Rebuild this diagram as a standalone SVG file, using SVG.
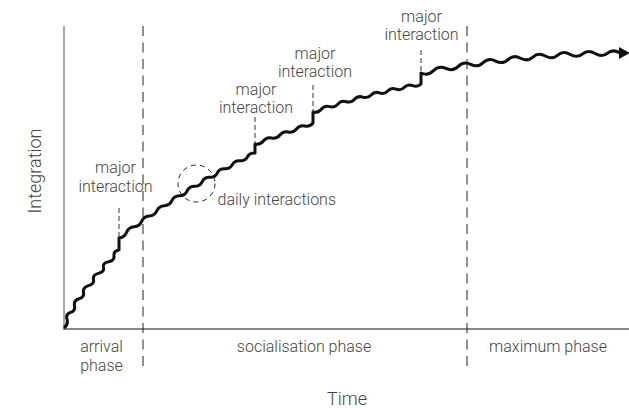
<svg xmlns="http://www.w3.org/2000/svg" width="629" height="408" viewBox="0 0 629 408">
<style>
  text { font-family: Roboto, "Noto Sans", "Liberation Sans", sans-serif; font-weight: 300; fill: #444; }
  .lbl { font-size: 16px; text-anchor: middle; }
  .ax-title { font-size: 18px; text-anchor: middle; }
  .axis { stroke: #888; fill: none; }
  .phase { stroke: #222; stroke-width: 1; stroke-dasharray: 10 6.5; fill: none; }
  .tick { stroke: #333; stroke-width: 1; stroke-dasharray: 5 3; fill: none; }
  .curve { stroke: #111; stroke-width: 3; fill: none; stroke-linejoin: round; stroke-linecap: butt; }
</style>
<defs>
  <marker id="arrow" viewBox="0 0 11 12" refX="2" refY="6" markerWidth="11" markerHeight="12" markerUnits="userSpaceOnUse" orient="auto">
    <path d="M0,0 L11,6 L0,12 z" fill="#111"/>
  </marker>
</defs>

<g id="axes">
  <line class="axis" x1="64" y1="26" x2="64" y2="329" stroke-width="1.5"/>
  <line class="axis" x1="63" y1="329" x2="629" y2="329" stroke-width="2"/>
  <text class="ax-title" x="347" y="405">Time</text>
  <text class="ax-title" transform="translate(41,171) rotate(-90)" x="0" y="0">Integration</text>
</g>

<g id="phases">
  <line class="phase" x1="143" y1="26" x2="143" y2="366"/>
  <line class="phase" x1="467" y1="26" x2="467" y2="366"/>
  <text class="lbl" x="101.5" y="352">arrival</text>
  <text class="lbl" x="101.5" y="371">phase</text>
  <text class="lbl" x="304" y="352">socialisation phase</text>
  <text class="lbl" x="548" y="352">maximum phase</text>
</g>

<g id="connectors">
  <path class="curve" marker-end="url(#arrow)" d="M64,328 Q68.53,324.69 67,319.3 T70.5,312.4 T74.5,305.6 T79,298.7 T83.5,292.4 T88.5,285.7 T93.5,279.3 T98.5,273.4 T103.5,267.4 T108.5,261.8 T114,255.8 T119,250 L119,238
  Q124.46,237.41 126.56,232.34 T134.11,226.78 T141.67,221.34 T149.22,216.01 T156.78,210.79 T164.33,205.68 T171.89,200.68 T179.44,195.8 T187,191.02 T194.56,186.36 T202.11,181.8 T209.67,177.36 T217.22,173.03 T224.78,168.81 T232.33,164.71 T239.89,160.71 T247.44,156.82 T255,153.05 L255,144
  Q260.09,145.13 263.29,141 T271.57,138 T279.86,135 T288.14,132 T296.43,129 T304.71,126 T313,123 L313,112
  Q318.02,113.3 321.31,109.28 T329.62,106.66 T337.92,104.13 T346.23,101.69 T354.54,99.35 T362.85,97.1 T371.15,94.96 T379.46,92.9 T387.77,90.93 T396.08,89.06 T404.38,87.3 T412.69,85.62 T421,84.04 L421,73
  Q428.1,76.2 433.44,70.64 T445.88,68.42 T458.31,66.36 T470.75,64.44 T483.19,62.67 T495.63,61.05 T508.06,59.58 T520.5,58.25 T532.94,57.07 T545.38,56.05 T557.81,55.17 T570.25,54.44 T582.69,53.86 T595.13,53.42 T607.56,53.14 T620,53 L621,53"/>
</g>

<g id="major1">
  <line class="tick" x1="119" y1="208" x2="119" y2="238"/>
  <text class="lbl" x="115.5" y="173">major</text>
  <text class="lbl" x="115.5" y="191.5">interaction</text>
</g>
<g id="major2">
  <line class="tick" x1="255" y1="117" x2="255" y2="144"/>
  <text class="lbl" x="256" y="95">major</text>
  <text class="lbl" x="256" y="113">interaction</text>
</g>
<g id="major3">
  <line class="tick" x1="313" y1="85" x2="313" y2="112"/>
  <text class="lbl" x="315" y="58.5">major</text>
  <text class="lbl" x="315" y="77">interaction</text>
</g>
<g id="major4">
  <line class="tick" x1="421" y1="50" x2="421" y2="72"/>
  <text class="lbl" x="421.5" y="21.5">major</text>
  <text class="lbl" x="421.5" y="39.5">interaction</text>
</g>
<g id="daily">
  <circle cx="196.5" cy="183.5" r="18.5" fill="none" stroke="#222" stroke-width="1" stroke-dasharray="5 4"/>
  <text x="217.5" y="205" font-size="16">daily interactions</text>
</g>
</svg>
